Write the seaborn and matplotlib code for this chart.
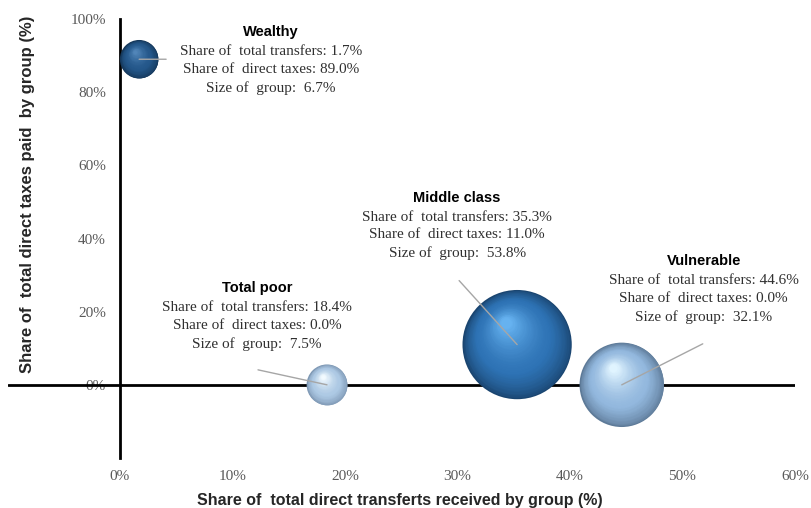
import numpy as np
import pandas as pd
import matplotlib
matplotlib.use("Agg")
import matplotlib.pyplot as plt
import matplotlib.transforms as mtransforms
from matplotlib.colors import to_rgb
import seaborn as sns

# data
groups = ["Wealthy", "Total poor", "Middle class", "Vulnerable"]
transfers = [1.7, 18.4, 35.3, 44.6]      # share of total transfers (%)
taxes = [89.0, 0.0, 11.0, 0.0]           # share of direct taxes (%)
group_size = [6.7, 7.5, 53.8, 32.1]      # size of group (%)

x_ticks = [0, 10, 20, 30, 40, 50, 60]
y_ticks = [0, 20, 40, 60, 80, 100]

# sphere colours: rim, body and highlight
edge_colors = {"Wealthy": "#143658", "Total poor": "#7d97b3",
               "Middle class": "#1a4570", "Vulnerable": "#5d7a98"}
body_colors = {"Wealthy": "#24578a", "Total poor": "#adc9e4",
               "Middle class": "#2e73b5", "Vulnerable": "#93b8de"}
light_colors = {"Wealthy": "#5185b8", "Total poor": "#f2faff",
                "Middle class": "#66b2f0", "Vulnerable": "#e0f4ff"}

# where the leader line ends and where the label sits (pixels from bubble centre)
leader_end = [(27, 0), (-69, 15), (-58, 64), (81, 41)]
label_pos = [(132, 27), (-70, 97), (-60, 147), (82, 124)]

df = pd.DataFrame({"group": groups, "transfers": transfers,
                   "taxes": taxes, "size": group_size})

DPI = 100
K = 115  # marker area (pt^2) per % of population

fig = plt.figure(figsize=(8.12, 5.08), dpi=DPI)
sns.set_style("white")
ax = fig.add_axes([7.5 / 812, 1 - 458 / 508, 787.5 / 812, 439 / 508])

serif = ["Liberation Serif", "DejaVu Serif"]
bold_sans = ["Liberation Sans Narrow", "Liberation Sans", "DejaVu Sans"]

# zero line behind the bubbles
ax.axhline(0, color="black", lw=2, zorder=1)

# base spheres
sns.scatterplot(data=df, x="transfers", y="taxes", hue="group", palette=edge_colors,
                size="size", sizes=(0, 53.8 * K), size_norm=(0, 53.8),
                linewidth=0, legend=False, ax=ax, zorder=3)

# fake 3D shading: stacked shrinking discs drifting toward the highlight
n_layers = 40
for i, row in df.iterrows():
    s0 = row["size"] * K
    r_dots = np.sqrt(s0) / 2 * DPI / 72
    c0 = np.array(to_rgb(edge_colors[row["group"]]))
    cb = np.array(to_rgb(body_colors[row["group"]]))
    c1 = np.array(to_rgb(light_colors[row["group"]]))
    for k in range(1, n_layers):
        t = k / (n_layers - 1)
        f = 1 - 0.9 * t
        shift = (1 - f) / 0.9
        dx = -0.2 * r_dots * shift
        dy = 0.4 * r_dots * shift
        if t < 0.35:
            col = c0 + (cb - c0) * (t / 0.35) ** 0.7
        else:
            col = cb + (c1 - cb) * ((t - 0.35) / 0.65) ** 1.5
        tr = mtransforms.offset_copy(ax.transData, fig=fig, x=dx, y=dy, units="dots")
        ax.scatter([row["transfers"]], [row["taxes"]], s=s0 * f ** 2, color=col,
                   linewidths=0, transform=tr, zorder=3 + k * 0.001)

# leader lines and labels
for i, row in df.iterrows():
    ax.annotate("", xy=(row["transfers"], row["taxes"]), xytext=leader_end[i],
                textcoords="offset pixels",
                arrowprops=dict(arrowstyle="-", color="#a6a6a6", lw=1,
                                shrinkA=0, shrinkB=0), zorder=5)
    ax.annotate(row["group"], xy=(row["transfers"], row["taxes"]),
                xytext=label_pos[i], textcoords="offset pixels",
                ha="center", va="center", fontsize=10.5, fontweight="bold",
                family=bold_sans, color="black", zorder=6)
    body = ("Share of  total transfers: %.1f%%\nShare of  direct taxes: %.1f%%\nSize of  group:  %.1f%%"
            % (row["transfers"], row["taxes"], row["size"]))
    ax.annotate(body, xy=(row["transfers"], row["taxes"]),
                xytext=(label_pos[i][0], label_pos[i][1] - 13), textcoords="offset pixels",
                ha="center", va="top", fontsize=11, family=serif, color="#303030",
                linespacing=1.48, multialignment="center", zorder=6)

ax.set_xlim(-10, 60)
ax.set_ylim(-20, 100)
ax.set_xticks(x_ticks)
ax.set_xticklabels(["%d%%" % v for v in x_ticks])
ax.set_yticks(y_ticks)
ax.set_yticklabels(["%d%%" % v for v in y_ticks])

ax.spines["left"].set_position(("data", 0))
ax.spines["left"].set_linewidth(2)
ax.spines["left"].set_color("black")
ax.spines["left"].set_zorder(2)
for side in ["top", "right", "bottom"]:
    ax.spines[side].set_visible(False)

ax.tick_params(axis="x", length=0, pad=9, labelsize=11, labelcolor="#595959")
ax.tick_params(axis="y", length=0, pad=10, labelsize=11, labelcolor="#595959")
for lab in ax.get_xticklabels() + ax.get_yticklabels():
    lab.set_family(serif)

ax.set_xlabel("")
ax.set_ylabel("")
fig.text(400 / 812, 1 - 500 / 508, "Share of  total direct transferts received by group (%)",
         ha="center", va="center", fontsize=11.5, fontweight="bold", family=bold_sans)
fig.text(28 / 812, 1 - 194 / 508, "Share of  total direct taxes paid  by group (%)",
         ha="center", va="center", rotation=90, fontsize=12, fontweight="bold", family=bold_sans)

fig.savefig("out.png", dpi=DPI)
